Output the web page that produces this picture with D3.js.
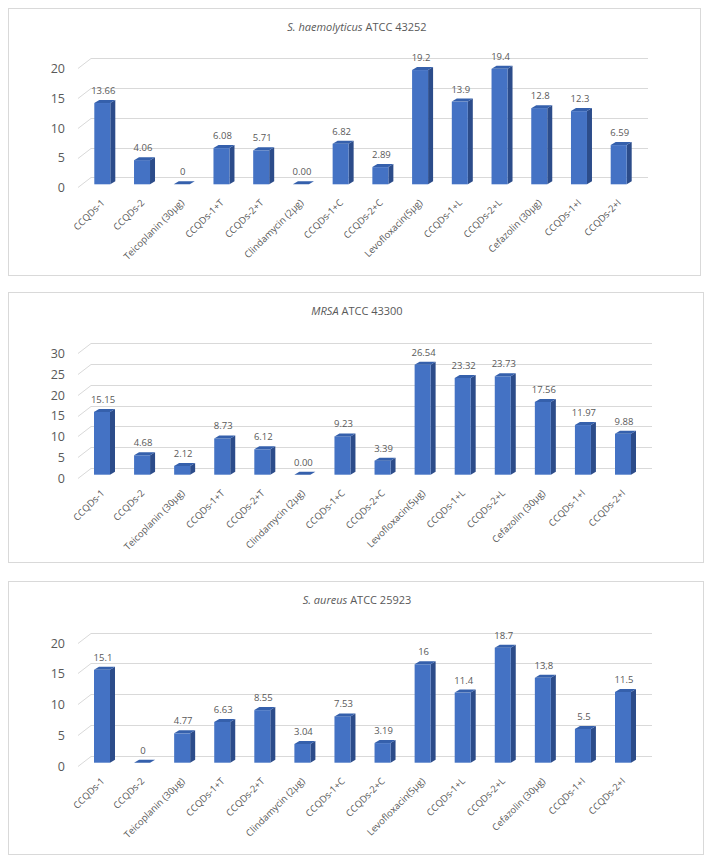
<!DOCTYPE html>
<html>
<head>
    <meta charset="utf-8" />
    <title></title>
    <script src="https://d3js.org/d3.v7.min.js"></script>
    <style type="text/css">
        body { margin: 0; background: #fff; }
        svg { display: block; font-family: "Open Sans", "DejaVu Sans", sans-serif; }
        .grid { stroke: #d9d9d9; stroke-width: 1; fill: none; }
        .frame { stroke: #d9d9d9; stroke-width: 1; fill: #fff; }
    </style>
</head>
<body>
<div id="chart"></div>
<script type="text/javascript">

    // categories along the x axis (same for all three charts)
    var categories = ["CCQDs-1", "CCQDs-2", "Teicoplanin (30µg)", "CCQDs-1+T", "CCQDs-2+T",
        "Clindamycin (2µg)", "CCQDs-1+C", "CCQDs-2+C", "Levofloxacin(5µg)", "CCQDs-1+L",
        "CCQDs-2+L", "Cefazolin (30µg)", "CCQDs-1+I", "CCQDs-2+I"];

    // S. haemolyticus ATCC 43252
    var values1 = [13.66, 4.06, 0, 6.08, 5.71, 0, 6.82, 2.89, 19.2, 13.9, 19.4, 12.8, 12.3, 6.59];
    var labels1 = ["13.66", "4.06", "0", "6.08", "5.71", "0.00", "6.82", "2.89", "19.2", "13.9", "19.4", "12.8", "12.3", "6.59"];
    var ticks1 = [0, 5, 10, 15, 20];

    // MRSA ATCC 43300
    var values2 = [15.15, 4.68, 2.12, 8.73, 6.12, 0, 9.23, 3.39, 26.54, 23.32, 23.73, 17.56, 11.97, 9.88];
    var labels2 = ["15.15", "4.68", "2.12", "8.73", "6.12", "0.00", "9.23", "3.39", "26.54", "23.32", "23.73", "17.56", "11.97", "9.88"];
    var ticks2 = [0, 5, 10, 15, 20, 25, 30];

    // S. aureus ATCC 25923
    var values3 = [15.1, 0, 4.77, 6.63, 8.55, 3.04, 7.53, 3.19, 16, 11.4, 18.7, 13.8, 5.5, 11.5];
    var labels3 = ["15.1", "0", "4.77", "6.63", "8.55", "3.04", "7.53", "3.19", "16", "11.4", "18.7", "13,8", "5.5", "11.5"];
    var ticks3 = [0, 5, 10, 15, 20];

    var W = 712, H = 863;
    var svg = d3.select("#chart").append("svg")
        .attr("width", W)
        .attr("height", H);

    var front = "#4472c4", topC = "#3560ac", sideC = "#2c4c8a", txt = "#595959";
    var depth = { dx: 5, dy: -3 };     // bar depth
    var wall = { dx: -13, dy: 10 };    // back wall -> front floor edge
    var barDy = 7;                     // bars sit a bit in front of the back wall

    function drawPanel(p) {
        var g = svg.append("g");

        g.append("rect").attr("class", "frame")
            .attr("x", 8.5).attr("y", p.top + 0.5)
            .attr("width", p.right - 8).attr("height", p.bottom - p.top);

        // title
        var t = g.append("text")
            .attr("x", 357).attr("y", p.top + 23)
            .attr("text-anchor", "middle")
            .attr("font-size", "11px")
            .attr("fill", txt);
        t.append("tspan").attr("font-style", "italic").text(p.italic);
        t.append("tspan").text(p.rest);

        var y = d3.scaleLinear().domain([0, p.max]).range([p.y0, p.y1]);
        var x = d3.scalePoint().domain(categories).range(p.xr);

        // grid: back wall lines + short diagonal to the front
        var gl = g.selectAll(".gl").data(p.ticks).enter().append("g");
        gl.append("path").attr("class", "grid")
            .attr("d", function (d) {
                var yy = Math.round(y(d)) + 0.5;
                return "M" + (91 + wall.dx) + "," + (yy + wall.dy) + "L91," + yy + "L" + p.gridR + "," + yy;
            });
        gl.append("text")
            .attr("x", 65).attr("y", function (d) { return y(d) + wall.dy + 0.5; })
            .attr("dy", "0.35em")
            .attr("text-anchor", "end")
            .attr("font-size", "12.5px")
            .attr("fill", txt)
            .text(function (d) { return d; });

        var base = p.y0 + barDy;
        var bw = 16;

        var bars = g.selectAll(".bar").data(p.values).enter().append("g");
        // side face
        bars.append("path").attr("fill", sideC)
            .attr("d", function (d, i) {
                var x1 = x(categories[i]) + bw / 2, top = y(d) + barDy;
                return "M" + x1 + "," + top + "l" + depth.dx + "," + depth.dy +
                    "L" + (x1 + depth.dx) + "," + (base + depth.dy) + "L" + x1 + "," + base + "Z";
            });
        // front face
        bars.append("rect").attr("fill", front)
            .attr("x", function (d, i) { return x(categories[i]) - bw / 2; })
            .attr("y", function (d) { return y(d) + barDy; })
            .attr("width", bw)
            .attr("height", function (d) { return base - (y(d) + barDy); });
        // top face
        bars.append("path").attr("fill", topC)
            .attr("d", function (d, i) {
                var x0 = x(categories[i]) - bw / 2, top = y(d) + barDy;
                return "M" + x0 + "," + top + "l" + depth.dx + "," + depth.dy +
                    "l" + bw + ",0" + "l" + (-depth.dx) + "," + (-depth.dy) + "Z";
            });

        // value labels
        g.selectAll(".vl").data(p.values).enter().append("text")
            .attr("x", function (d, i) { return x(categories[i]) + 1; })
            .attr("y", function (d) { return y(d) + barDy - 9; })
            .attr("text-anchor", "middle")
            .attr("font-size", "9.5px")
            .attr("fill", txt)
            .text(function (d, i) { return p.labels[i]; });

        // category labels
        g.selectAll(".xl").data(categories).enter().append("text")
            .attr("transform", function (d) {
                return "translate(" + (x(d) + 3) + "," + (base + 19) + ") rotate(-45)";
            })
            .attr("text-anchor", "end")
            .attr("font-size", "9.5px")
            .attr("fill", txt)
            .text(function (d) { return d; });
    }

    drawPanel({ top: 8, bottom: 275, right: 700, italic: "S. haemolyticus", rest: " ATCC 43252",
        values: values1, labels: labels1, ticks: ticks1, max: 20, y0: 177.3, y1: 58.3,
        xr: [102.3, 618.7], gridR: 648 });
    drawPanel({ top: 292, bottom: 562, right: 703, italic: "MRSA", rest: " ATCC 43300",
        values: values2, labels: labels2, ticks: ticks2, max: 30, y0: 467.7, y1: 343.3,
        xr: [102, 623], gridR: 652 });
    drawPanel({ top: 581, bottom: 854, right: 703, italic: "S. aureus", rest: " ATCC 25923",
        values: values3, labels: labels3, ticks: ticks3, max: 20, y0: 755.7, y1: 632.7,
        xr: [102, 623], gridR: 652 });
</script>
</body>
</html>
